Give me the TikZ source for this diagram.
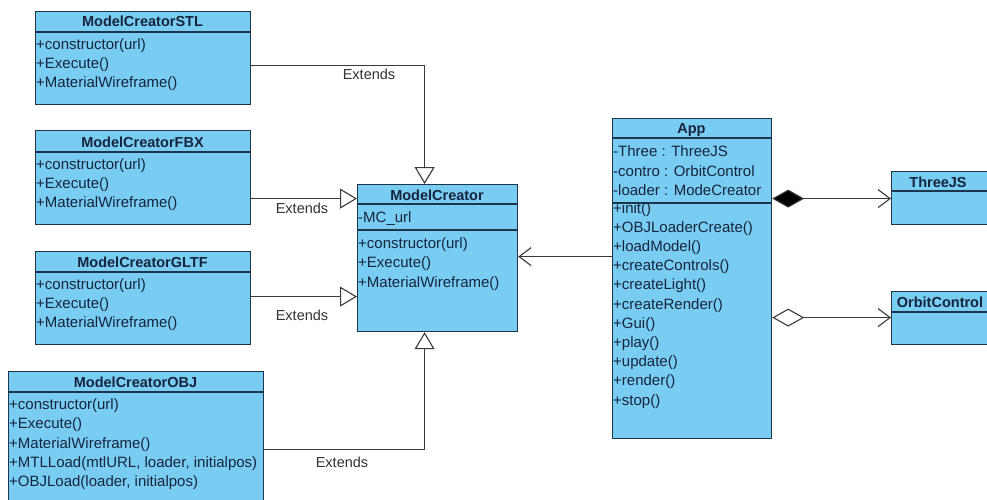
\documentclass[tikz,border=0pt]{standalone}
\usepackage{fontspec}
\setmainfont{Liberation Sans}
\usetikzlibrary{arrows.meta}
\definecolor{boxfill}{RGB}{122,205,242}
\definecolor{boxline}{RGB}{30,52,74}
\definecolor{txt}{RGB}{22,36,62}
\definecolor{lc}{RGB}{58,58,58}
\definecolor{lbl}{RGB}{50,50,50}
\begin{document}
\begin{tikzpicture}[x=1pt,y=-1pt,
  umlbox/.style={draw=boxline, line width=1.2pt, fill=boxfill, rectangle, inner sep=0pt, anchor=north west},
  sep/.style={draw=boxline, line width=1.2pt},
  title/.style={font=\fontsize{14.5}{17}\selectfont\bfseries, text=txt, anchor=base, inner sep=0pt},
  mem/.style={font=\fontsize{15}{19}\selectfont, text=txt, anchor=base west, inner sep=0pt},
  lab/.style={font=\fontsize{14.5}{17}\selectfont, text=lbl, anchor=base, inner sep=0pt},
  conn/.style={draw=lc, line width=1.1pt},
  gen/.style={conn, -{Triangle[open, length=17pt, width=20pt, fill=white, line width=1.1pt]}},
  dep/.style={conn, -{Straight Barb[length=12pt, width=18pt, line width=1.1pt]}},
  comp/.style={conn, {Diamond[length=32pt, width=18pt, fill=black]}-{Straight Barb[length=12pt, width=18pt, line width=1.1pt]}},
  agg/.style={conn, {Diamond[open, length=32pt, width=18pt, fill=white, line width=1.1pt]}-{Straight Barb[length=12pt, width=18pt, line width=1.1pt]}}
]
\useasboundingbox (0,0) rectangle (987,500);
\clip (0,0) rectangle (987,500);
\fill[white] (0,0) rectangle (987,500);

% ---------- ModelCreatorSTL ----------
\node[umlbox, minimum width=215pt, minimum height=93pt] (stl) at (35,11) {};
\draw[sep] ([yshift=-21]stl.north west) -- ([yshift=-21]stl.north east);
\node[title] (stlT) at (142.5,27) {ModelCreatorSTL};
\foreach \t [count=\i] in {+constructor(url), +Execute(), +MaterialWireframe()}
  \node[mem] (stl\i) at (36,49.5+19*\i-19) {\t};

% ---------- ModelCreatorFBX ----------
\node[umlbox, minimum width=215pt, minimum height=94pt] (fbx) at (35,130) {};
\draw[sep] ([yshift=-22]fbx.north west) -- ([yshift=-22]fbx.north east);
\node[title] (fbxT) at (142.5,147) {ModelCreatorFBX};
\foreach \t [count=\i] in {+constructor(url), +Execute(), +MaterialWireframe()}
  \node[mem] (fbx\i) at (36,169+19*\i-19) {\t};

% ---------- ModelCreatorGLTF ----------
\node[umlbox, minimum width=215pt, minimum height=93pt] (gltf) at (35,251) {};
\draw[sep] ([yshift=-21]gltf.north west) -- ([yshift=-21]gltf.north east);
\node[title] (gltfT) at (142.5,267) {ModelCreatorGLTF};
\foreach \t [count=\i] in {+constructor(url), +Execute(), +MaterialWireframe()}
  \node[mem] (gltf\i) at (36,289.5+19*\i-19) {\t};

% ---------- ModelCreatorOBJ ----------
\node[umlbox, minimum width=255pt, minimum height=134pt] (obj) at (8,371) {};
\draw[sep] ([yshift=-21]obj.north west) -- ([yshift=-21]obj.north east);
\node[title] (objT) at (135.5,387) {ModelCreatorOBJ};
\foreach \t [count=\i] in {+constructor(url), +Execute(), +MaterialWireframe(), {+MTLLoad(mtlURL, loader, initialpos)}, {+OBJLoad(loader, initialpos)}}
  \node[mem] (obj\i) at (9,409.5+19.3*\i-19.3) {\t};

% ---------- ModelCreator ----------
\node[umlbox, minimum width=160pt, minimum height=147pt] (mc) at (357,184) {};
\draw[sep] ([yshift=-20]mc.north west) -- ([yshift=-20]mc.north east);
\draw[sep] ([yshift=-46]mc.north west) -- ([yshift=-46]mc.north east);
\node[title] (mcT) at (437,200) {ModelCreator};
\node[mem] (mcA) at (358,222) {-MC\_url};
\foreach \t [count=\i] in {+constructor(url), +Execute(), +MaterialWireframe()}
  \node[mem] (mc\i) at (358,248+19.5*\i-19.5) {\t};

% ---------- App ----------
\node[umlbox, minimum width=159pt, minimum height=320pt] (app) at (612,118) {};
\draw[sep] ([yshift=-20]app.north west) -- ([yshift=-20]app.north east);
\draw[sep] ([yshift=-85]app.north west) -- ([yshift=-85]app.north east);
\node[title] (appT) at (691.5,134) {App};
\foreach \t [count=\i] in {-Three : ThreeJS, -contro : OrbitControl, -loader : ModeCreator}
  \node[mem] (appA\i) at (613,157+19*\i-19) {\t};
\foreach \t [count=\i] in {+init(), +OBJLoaderCreate(), +loadModel(), +createControls(), +createLight(), +createRender(), +Gui(), +play(), +update(), +render(), +stop()}
  \node[mem] (appM\i) at (613,213+19.2*\i-19.2) {\t};

% ---------- ThreeJS / OrbitControl ----------
\node[umlbox, minimum width=110pt, minimum height=53pt] (three) at (891,171) {};
\draw[sep] ([yshift=-20]three.north west) -- ([yshift=-20]three.north east);
\node[title] (threeT) at (938,187) {ThreeJS};
\node[umlbox, minimum width=110pt, minimum height=53pt] (orbit) at (891,291) {};
\draw[sep] ([yshift=-21]orbit.north west) -- ([yshift=-21]orbit.north east);
\node[title] (orbitT) at (940,307) {OrbitControl};

% ---------- Connectors ----------
\draw[gen] ([yshift=-7.5]stl.east) -| ([xshift=-13]mc.north);
\draw[gen] ([yshift=-21]fbx.east) -- ([yshift=59.5]mc.west);
\draw[gen] ([yshift=1.5]gltf.east) -- ([yshift=1.5]gltf.east -| mc.west);
\draw[gen] ([yshift=-11]obj.east) -| ([xshift=-13]mc.south);
\draw[dep] ([yshift=22]app.west) -- ([yshift=22]app.west -| mc.east);
\draw[comp] ([yshift=80]app.east) -- ([yshift=80]app.east -| three.west);
\draw[agg] ([yshift=-39]app.east) -- ([yshift=-39]app.east -| orbit.west);

% ---------- Labels ----------
\node[lab] (l1) at (369,80) {Extends};
\node[lab] (l2) at (302,213) {Extends};
\node[lab] (l3) at (302,320) {Extends};
\node[lab] (l4) at (342,467) {Extends};
\end{tikzpicture}
\end{document}
